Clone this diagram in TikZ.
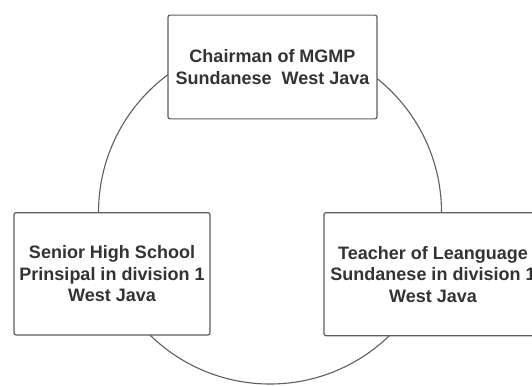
\documentclass[tikz,border=0pt]{standalone}
\usepackage{fontspec}
\setmainfont{Liberation Sans}
\definecolor{linec}{HTML}{5E5E5E}
\definecolor{textc}{HTML}{333333}
\begin{document}
\begin{tikzpicture}[x=1pt,y=-1pt,
  ring/.style={draw=linec, line width=1.1pt},
  box/.style={draw=linec, line width=1.2pt, fill=white, rounded corners=2pt,
    align=center, font=\fontsize{18}{21.5}\selectfont\bfseries, text=textc, inner sep=0pt},
]
\useasboundingbox (0,0) rectangle (532,385);
\clip (0,0) rectangle (532,385);
\coordinate (c) at (270,212.5);
\draw[ring] (c) circle[radius=171.5pt];
\node[box, minimum width=209pt, minimum height=103.7pt] (chair) at (272.5,67)
  {Chairman of MGMP\\Sundanese\ \ West Java};
\node[box, minimum width=196pt, minimum height=122.3pt] (principal) at (112,273.8)
  {Senior High School\\Prinsipal in division 1\\West Java};
\node[box, minimum width=218pt, minimum height=123pt] (teacher) at (433,274.2)
  {Teacher of Leanguage\\Sundanese in division 1\\West Java};
\end{tikzpicture}
\end{document}
